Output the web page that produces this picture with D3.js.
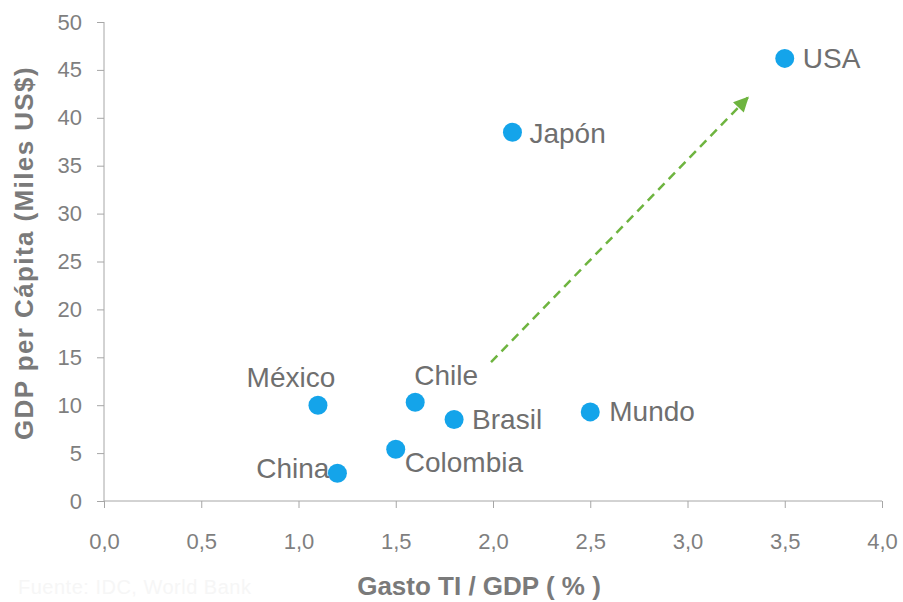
<!DOCTYPE html>
<html>
<head>
<meta charset="utf-8">
<script src="https://cdn.jsdelivr.net/npm/d3@7"></script>
<style>
  body { margin: 0; background: #fff; }
  svg { font-family: "Liberation Sans", Arial, sans-serif; }
  .axis path, .axis line { stroke: #a6a6a6; }
  .axis text { fill: #7f7f7f; font-size: 22px; font-family: "Liberation Sans", Arial, sans-serif; }
</style>
</head>
<body>
<svg id="chart"></svg>
<script>
// Gasto TI vs GDP per cápita
var countries = ["USA", "Japón", "México", "Chile", "Brasil", "Mundo", "Colombia", "China"];
var itSpend = [3.5, 2.1, 1.1, 1.6, 1.8, 2.5, 1.5, 1.2];      // Gasto TI / GDP (%)
var gdpPerCapita = [46.2, 38.5, 10.0, 10.3, 8.5, 9.3, 5.4, 2.9]; // Miles US$
var xTicks = [0, 0.5, 1, 1.5, 2, 2.5, 3, 3.5, 4];
var yTicks = [0, 5, 10, 15, 20, 25, 30, 35, 40, 45, 50];
var trendFrom = [1.99, 14.5];
var trendTo = [3.31, 42.1];

// where each label sits relative to its dot
var labelPlace = {
    "USA": {anchor: "start", dx: 18, dy: 10},
    "Japón": {anchor: "start", dx: 17, dy: 11},
    "México": {anchor: "middle", dx: -27, dy: -18},
    "Chile": {anchor: "start", dx: -1, dy: -17},
    "Brasil": {anchor: "start", dx: 18, dy: 9},
    "Mundo": {anchor: "start", dx: 19, dy: 9},
    "Colombia": {anchor: "start", dx: 9, dy: 23},
    "China": {anchor: "end", dx: -8, dy: 5}
};

var width = 903, height = 602;
var margin = {top: 22, right: 21, bottom: 101, left: 104};
var w = width - margin.left - margin.right;
var h = height - margin.top - margin.bottom;

var svg = d3.select("#chart")
    .attr("width", width)
    .attr("height", height);

var chart = svg.append("g")
    .attr("transform", "translate(" + margin.left + "," + margin.top + ")");

var x = d3.scaleLinear().domain([0, 4]).range([0, w]);
var y = d3.scaleLinear().domain([0, 50]).range([h, 0]);

var fmt = d3.format(".1f");

chart.append("g")
    .attr("class", "x axis")
    .attr("transform", "translate(0," + h + ")")
    .call(d3.axisBottom(x)
        .tickValues(xTicks)
        .tickSize(7)
        .tickPadding(25)
        .tickFormat(function (d) { return fmt(d).replace(".", ","); }));

chart.append("g")
    .attr("class", "y axis")
    .call(d3.axisLeft(y)
        .tickValues(yTicks)
        .tickSize(7)
        .tickPadding(15));

chart.selectAll(".axis .domain")
    .attr("d", function () {
        return d3.select(this.parentNode).classed("x") ? "M0,0H" + w : "M0," + h + "V0";
    });

// trend arrow
svg.append("defs").append("marker")
    .attr("id", "arrow")
    .attr("viewBox", "0 0 10 10")
    .attr("refX", 9)
    .attr("refY", 5)
    .attr("markerWidth", 6.5)
    .attr("markerHeight", 6)
    .attr("markerUnits", "strokeWidth")
    .attr("orient", "auto")
    .append("path")
    .attr("d", "M0,0L10,5L0,10Z")
    .attr("fill", "#6eb43f");

chart.append("line")
    .attr("x1", x(trendFrom[0]))
    .attr("y1", y(trendFrom[1]))
    .attr("x2", x(trendTo[0]))
    .attr("y2", y(trendTo[1]))
    .attr("stroke", "#6eb43f")
    .attr("stroke-width", 2.5)
    .attr("stroke-dasharray", "9,6")
    .attr("marker-end", "url(#arrow)");

var data = countries.map(function (c, i) {
    return {name: c, x: itSpend[i], y: gdpPerCapita[i]};
});

var pts = chart.selectAll(".pt")
    .data(data)
    .enter()
    .append("g")
    .attr("class", "pt");

pts.append("circle")
    .attr("cx", function (d) { return x(d.x); })
    .attr("cy", function (d) { return y(d.y); })
    .attr("r", 9.5)
    .attr("fill", "#14a4ea");

pts.append("text")
    .attr("x", function (d) { return x(d.x) + labelPlace[d.name].dx; })
    .attr("y", function (d) { return y(d.y) + labelPlace[d.name].dy; })
    .attr("text-anchor", function (d) { return labelPlace[d.name].anchor; })
    .attr("font-size", 28)
    .attr("fill", "#6f6f6f")
    .text(function (d) { return d.name; });

// axis titles
svg.append("text")
    .attr("x", 479)
    .attr("y", 595)
    .attr("text-anchor", "middle")
    .attr("font-size", 26)
    .attr("font-weight", "bold")
    .attr("fill", "#7a7a7a")
    .text("Gasto TI / GDP ( % )");

svg.append("text")
    .attr("transform", "translate(33,253) rotate(-90)")
    .attr("text-anchor", "middle")
    .attr("font-size", 26)
    .attr("letter-spacing", 1.4)
    .attr("font-weight", "bold")
    .attr("fill", "#7a7a7a")
    .text("GDP per Cápita (Miles US$)");

svg.append("text")
    .attr("x", 18)
    .attr("y", 594)
    .attr("font-size", 20)
    .attr("letter-spacing", 0.5)
    .attr("fill", "#f6f6f6")
    .text("Fuente: IDC, World Bank");
</script>
</body>
</html>
